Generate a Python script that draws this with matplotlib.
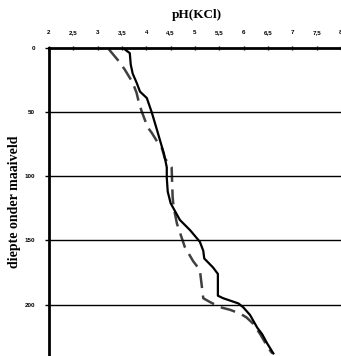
import matplotlib
matplotlib.use("Agg")
import matplotlib.pyplot as plt

# pH profiles (depth in cm)
depth_solid = [0, 4, 13, 20, 27, 34, 39, 50, 64, 77, 82, 93, 101, 112, 121,
               134, 142, 151, 158, 164, 171, 176, 193, 195, 199, 202, 208,
               218, 223, 230, 238]
ph_solid = [3.52, 3.66, 3.68, 3.72, 3.80, 3.87, 4.01, 4.11, 4.22, 4.32, 4.36,
            4.42, 4.42, 4.44, 4.50, 4.69, 4.90, 5.10, 5.17, 5.19, 5.37, 5.47,
            5.47, 5.58, 5.89, 5.99, 6.13, 6.28, 6.38, 6.48, 6.61]

depth_dash = [1, 11, 17, 27, 35, 43, 50, 62, 66, 74, 78, 86, 93, 116, 124,
              137, 155, 166, 173, 195, 198, 202, 204, 207, 210, 215, 223, 234,
              238]
ph_dash = [3.23, 3.45, 3.56, 3.72, 3.80, 3.85, 3.91, 4.03, 4.11, 4.24, 4.32,
           4.38, 4.52, 4.54, 4.56, 4.63, 4.79, 4.96, 5.10, 5.17, 5.31, 5.52,
           5.72, 5.93, 6.06, 6.20, 6.34, 6.51, 6.59]

x_ticks = [2, 2.5, 3, 3.5, 4, 4.5, 5, 5.5, 6, 6.5, 7, 7.5, 8]
x_labels = ["2", "2,5", "3", "3,5", "4", "4,5", "5", "5,5", "6", "6,5", "7", "7,5", "8"]
y_ticks = [0, 50, 100, 150, 200]

fig = plt.figure(figsize=(3.41, 3.56), dpi=100)
ax = fig.add_axes([49 / 341, 0, 1 - 49 / 341, 1 - 48 / 356])

ax.plot(ph_dash, depth_dash, color="#404040", lw=1.8, dashes=(6, 3))
ax.plot(ph_solid, depth_solid, color="black", lw=1.6)

ax.set_xlim(2, 8)
ax.set_ylim(240, 0)

for d in y_ticks[1:]:
    ax.axhline(d, color="black", lw=1.0)

ax.xaxis.tick_top()
ax.set_xticks(x_ticks)
ax.set_xticklabels(x_labels, fontsize=4.5, fontweight="bold", family="Liberation Sans")
ax.set_yticks(y_ticks)
ax.set_yticklabels([str(v) for v in y_ticks], fontsize=4.5, fontweight="bold",
                   family="Liberation Sans")
ax.tick_params(axis="x", direction="inout", length=3, width=1, pad=8)
ax.tick_params(axis="y", direction="out", length=3, width=1, pad=7)

for s in ["right", "bottom"]:
    ax.spines[s].set_visible(False)
ax.spines["top"].set_linewidth(2)
ax.spines["left"].set_linewidth(2)

fig.text(197 / 341, 1 - 15 / 356, "pH(KCl)", ha="center", va="center",
         fontsize=9.5, fontweight="bold", family="Liberation Serif")
fig.text(15 / 341, 1 - 202 / 356, "diepte onder maaiveld", ha="center", va="center",
         rotation=90, fontsize=10, fontweight="bold", family="Liberation Serif")

fig.savefig("out.png", dpi=100)
